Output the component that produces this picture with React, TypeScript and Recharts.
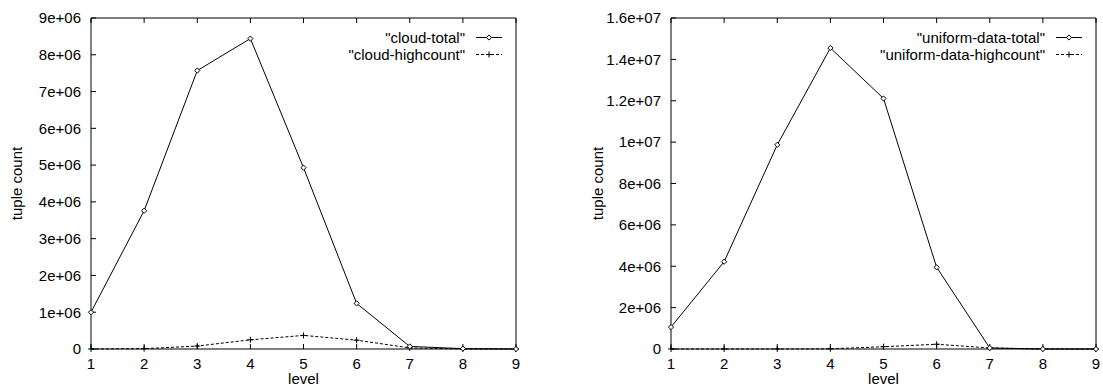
import React from "react";
import { LineChart, Line, XAxis, YAxis, Legend } from "recharts";

const levels = [1, 2, 3, 4, 5, 6, 7, 8, 9];

const cloudTotal = [1.0e6, 3.76e6, 7.57e6, 8.44e6, 4.93e6, 1.24e6, 0.07e6, 0.01e6, 0];
const cloudHighcount = [0, 0.01e6, 0.08e6, 0.25e6, 0.37e6, 0.24e6, 0.03e6, 0, 0];

const uniformTotal = [1.06e6, 4.22e6, 9.87e6, 14.55e6, 12.11e6, 3.95e6, 0.05e6, 0, 0];
const uniformHighcount = [0, 0, 0, 0.01e6, 0.11e6, 0.23e6, 0.05e6, 0, 0];

const cloudTicks = [0, 1e6, 2e6, 3e6, 4e6, 5e6, 6e6, 7e6, 8e6, 9e6];
const uniformTicks = [0, 2e6, 4e6, 6e6, 8e6, 10e6, 12e6, 14e6, 16e6];

const FONT = '"Liberation Sans", Arial, Helvetica, sans-serif';

// gnuplot style "1e+06"
const sci = (v: number) => {
  if (v === 0) return "0";
  const [m, e] = v.toExponential().split("e");
  const n = parseInt(e, 10);
  return `${m}e${n < 0 ? "-" : "+"}${String(Math.abs(n)).padStart(2, "0")}`;
};

const Diamond = (props: any) => {
  const { cx, cy } = props;
  if (cx == null || cy == null) return null;
  const r = 2.6;
  return (
    <path
      d={`M${cx},${cy - r}L${cx + r},${cy}L${cx},${cy + r}L${cx - r},${cy}Z`}
      fill="#fff"
      stroke="#000"
      strokeWidth={1}
    />
  );
};

const Plus = (props: any) => {
  const { cx, cy } = props;
  if (cx == null || cy == null) return null;
  const r = 3;
  return (
    <path
      d={`M${cx - r},${cy}H${cx + r}M${cx},${cy - r}V${cy + r}`}
      stroke="#000"
      strokeWidth={1}
      fill="none"
    />
  );
};

const NoTick = () => <g />;

interface PanelProps {
  total: number[];
  highcount: number[];
  names: [string, string];
  ticks: number[];
  yWidth: number;
  rightMargin: number;
  width: number;
  titleX: number;
  legendRight: number;
}

const Panel: React.FC<PanelProps> = ({
  total,
  highcount,
  names,
  ticks,
  yWidth,
  rightMargin,
  width,
  titleX,
  legendRight,
}) => {
  const data = levels.map((lv, i) => ({
    level: lv,
    total: total[i],
    high: highcount[i],
  }));
  const yMax = ticks[ticks.length - 1];

  const renderLegend = () => (
    <div style={{ fontFamily: FONT, fontSize: 15, color: "#000", lineHeight: "17px" }}>
      {[0, 1].map((k) => (
        <div key={k} style={{ display: "flex", justifyContent: "flex-end", alignItems: "center" }}>
          <span style={{ whiteSpace: "nowrap" }}>"{names[k]}"</span>
          <svg width={26} height={17} style={{ marginLeft: 11 }}>
            <line
              x1={0}
              y1={8.5}
              x2={26}
              y2={8.5}
              stroke="#000"
              strokeWidth={1}
              strokeDasharray={k === 1 ? "3 2" : undefined}
            />
            {k === 0 ? <Diamond cx={13} cy={8.5} /> : <Plus cx={13} cy={8.5} />}
          </svg>
        </div>
      ))}
    </div>
  );

  return (
    <LineChart
      width={width}
      height={388}
      data={data}
      margin={{ top: 17, right: rightMargin, bottom: 0, left: 0 }}
    >
      <XAxis
        dataKey="level"
        type="number"
        domain={[1, 9]}
        ticks={levels}
        height={39}
        tickSize={-5}
        tickMargin={14}
        stroke="#000"
        tick={{ fill: "#000", fontSize: 15, fontFamily: FONT }}
        label={(p: any) => {
          const vb = p.viewBox || {};
          return (
            <text
              x={vb.x + vb.width / 2}
              y={384}
              textAnchor="middle"
              fontSize={15}
              fontFamily={FONT}
              fill="#000"
            >
              level
            </text>
          );
        }}
      />
      <XAxis
        xAxisId="t"
        dataKey="level"
        type="number"
        orientation="top"
        domain={[1, 9]}
        ticks={levels}
        height={1}
        tickSize={-5}
        stroke="#000"
        tick={NoTick}
      />
      <YAxis
        type="number"
        domain={[0, yMax]}
        ticks={ticks}
        width={yWidth}
        tickSize={-5}
        tickMargin={15}
        tickFormatter={sci}
        stroke="#000"
        tick={{ fill: "#000", fontSize: 15, fontFamily: FONT }}
        label={(p: any) => {
          const vb = p.viewBox || {};
          const cy = vb.y + vb.height / 2;
          return (
            <text
              x={titleX}
              y={cy}
              transform={`rotate(-90 ${titleX} ${cy})`}
              textAnchor="middle"
              dominantBaseline="central"
              fontSize={15}
              fontFamily={FONT}
              fill="#000"
            >
              tuple count
            </text>
          );
        }}
      />
      <YAxis
        yAxisId="r"
        orientation="right"
        type="number"
        domain={[0, yMax]}
        ticks={ticks}
        width={1}
        tickSize={-5}
        stroke="#000"
        tick={NoTick}
      />
      <Legend
        layout="horizontal"
        verticalAlign="middle"
        align="center"
        content={renderLegend}
        wrapperStyle={{ top: 29, right: legendRight, left: "auto", bottom: "auto", width: "auto" }}
      />
      <Line
        dataKey="high"
        stroke="#000"
        strokeWidth={1}
        strokeDasharray="3 2"
        dot={<Plus />}
        activeDot={false}
        isAnimationActive={false}
      />
      <Line
        dataKey="total"
        stroke="#000"
        strokeWidth={1}
        dot={<Diamond />}
        activeDot={false}
        isAnimationActive={false}
      />
    </LineChart>
  );
};

export default function App() {
  return (
    <div
      style={{
        position: "absolute",
        left: 0,
        top: 0,
        width: 1103,
        height: 388,
        background: "#fff",
        display: "flex",
      }}
    >
      <Panel
        total={cloudTotal}
        highcount={cloudHighcount}
        names={["cloud-total", "cloud-highcount"]}
        ticks={cloudTicks}
        yWidth={91}
        rightMargin={34}
        width={551}
        titleX={16}
        legendRight={49}
      />
      <Panel
        total={uniformTotal}
        highcount={uniformHighcount}
        names={["uniform-data-total", "uniform-data-highcount"]}
        ticks={uniformTicks}
        yWidth={120}
        rightMargin={6}
        width={552}
        titleX={46}
        legendRight={21}
      />
    </div>
  );
}
